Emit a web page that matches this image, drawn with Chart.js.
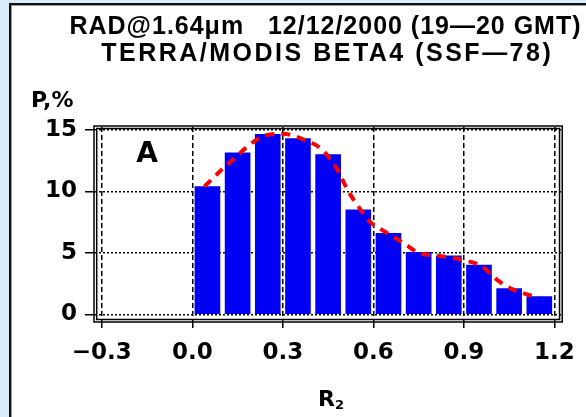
<!DOCTYPE html>
<html>
<head>
<meta charset="utf-8">
<script src="https://cdn.jsdelivr.net/npm/chart.js"></script>
<style>
  html, body { margin: 0; padding: 0; background: #d8ecfc; }
  #panel { position: absolute; left: 9px; top: 3px; width: 577px; height: 414px; background: #fff;
           border-left: 2px solid #111; border-top: 2px solid #111; box-shadow: inset 1px 1px 0 #999; box-sizing: border-box; }
  #wrap { position: absolute; left: 0; top: 0; width: 586px; height: 417px; }
</style>
</head>
<body>
<div id="panel"></div>
<div id="wrap"><canvas id="myChart" width="586" height="417"></canvas></div>
<script>
// histogram bins (R2 bin centres) and frequencies P, %
const binCenters = [0.05, 0.15, 0.25, 0.35, 0.45, 0.55, 0.65, 0.75, 0.85, 0.95, 1.05, 1.15]
const binValues = [10.4, 13.15, 14.65, 14.3, 13.0, 8.5, 6.6, 5.05, 4.75, 4.0, 2.1, 1.45]

// fitted curve (red dashed)
const fitX = [0.04, 0.09, 0.14, 0.18, 0.235, 0.30, 0.35, 0.43, 0.48, 0.515, 0.555, 0.59, 0.64, 0.70, 0.75, 0.82, 0.90, 0.96, 1.01, 1.06, 1.13]
const fitY = [10.4, 11.6, 12.7, 13.6, 14.5, 14.7, 14.4, 13.4, 11.8, 10.1, 8.6, 7.5, 6.7, 5.8, 5.0, 4.75, 4.4, 3.9, 2.8, 2.05, 1.47]

const xTicks = [-0.3, 0.0, 0.3, 0.6, 0.9, 1.2]
const yTicks = [0, 5, 10, 15]

const titleLines = ['RAD@1.64\u03bcm   12/12/2000 (19\u201420 GMT)', 'TERRA/MODIS BETA4 (SSF\u201478)']

const FONT = '"Liberation Sans", Arial, sans-serif'
const WIDE = '"DejaVu Sans", sans-serif'

function toPoints(xs, ys) {
  const pts = []
  for (let i = 0; i < xs.length; i++) {
    pts.push({ x: xs[i], y: ys[i] })
  }
  return pts
}

// draw a text line stretched (by letter spacing) to a given width
function fitText(ctx, text, cx, cy, width) {
  ctx.letterSpacing = '0px'
  const w = ctx.measureText(text).width
  const sp = (width - w) / text.length
  ctx.letterSpacing = sp + 'px'
  ctx.fillText(text, cx + sp / 2, cy)
  ctx.letterSpacing = '0px'
}

const decorations = {
  id: 'decorations',
  afterDraw(chart) {
    const ctx = chart.ctx
    const a = chart.chartArea
    ctx.save()
    // double frame around the plot
    ctx.strokeStyle = '#000'
    ctx.lineWidth = 1.5
    ctx.strokeRect(a.left - 1, a.top - 1, a.right - a.left + 2, a.bottom - a.top + 2)
    ctx.strokeRect(a.left + 1.7, a.top + 1.5, a.right - a.left - 3.4, a.bottom - a.top - 3)

    ctx.fillStyle = '#000'
    ctx.textAlign = 'center'
    ctx.textBaseline = 'middle'
    ctx.font = 'bold 25px ' + FONT
    fitText(ctx, titleLines[0], 325, 27, 512)
    fitText(ctx, titleLines[1], 326, 54, 452)

    ctx.textAlign = 'left'
    ctx.font = 'bold 22px ' + WIDE
    ctx.fillText('P,%', 31, 101)

    ctx.textAlign = 'center'
    ctx.font = 'bold 28px ' + WIDE
    ctx.fillText('A', 147, 155)

    // axis title R2
    ctx.font = 'bold 22px ' + WIDE
    ctx.textAlign = 'left'
    ctx.fillText('R', 318, 400)
    ctx.font = 'bold 13px ' + WIDE
    ctx.fillText('2', 335, 406)
    ctx.restore()
  }
}

const ctx = document.getElementById('myChart').getContext('2d')
const myChart = new Chart(ctx, {
  type: 'bar',
  data: {
    datasets: [{
      type: 'line',
      data: toPoints(fitX, fitY),
      borderColor: '#ff0000',
      borderWidth: 4,
      borderDash: [9, 7],
      pointRadius: 0,
      cubicInterpolationMode: 'monotone',
      fill: false,
      order: 0
    }, {
      type: 'bar',
      data: toPoints(binCenters, binValues),
      backgroundColor: '#0000f4',
      barThickness: 25,
      order: 1
    }]
  },
  plugins: [decorations],
  options: {
    responsive: false,
    animation: false,
    devicePixelRatio: 1,
    layout: {
      padding: { left: 0, top: 127, right: 15, bottom: 0 }
    },
    plugins: {
      legend: { display: false },
      tooltip: { enabled: false }
    },
    scales: {
      x: {
        type: 'linear',
        offset: false,
        min: -0.3227,
        max: 1.2226,
        afterBuildTicks: (scale) => { scale.ticks = xTicks.map(v => ({ value: v })) },
        afterFit: (scale) => { scale.height = 96 },
        border: { display: false, dash: [5, 3] },
        grid: { offset: false, color: '#000', lineWidth: 1.5, tickLength: 7, tickBorderDash: [], tickColor: '#000' },
        ticks: {
          color: '#000',
          font: { family: WIDE, size: 23, weight: 'bold' },
          padding: 11,
          maxRotation: 0,
          callback: (v) => (v < 0 ? '\u2212' : '') + Math.abs(v).toFixed(1)
        }
      },
      y: {
        min: -0.545,
        max: 15.244,
        afterBuildTicks: (scale) => { scale.ticks = yTicks.map(v => ({ value: v })) },
        afterFit: (scale) => { scale.width = 95 },
        border: { display: false, dash: [2, 2] },
        grid: { color: '#000', lineWidth: 1.5, tickLength: 10, tickBorderDash: [], tickColor: '#000' },
        ticks: {
          color: '#000',
          font: { family: WIDE, size: 23, weight: 'bold' },
          padding: 8
        }
      }
    }
  }
})
</script>
</body>
</html>
